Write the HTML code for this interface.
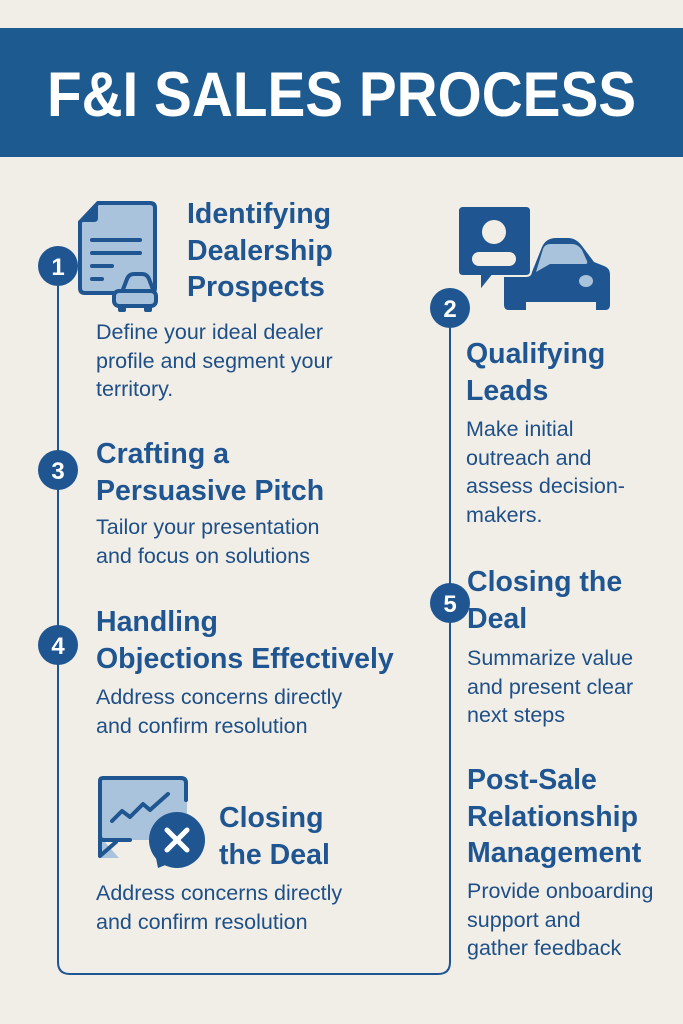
<!DOCTYPE html>
<html><head><meta charset="utf-8"><style>
*{margin:0;padding:0}
body{width:683px;height:1024px;background:#f1eee8;position:relative;overflow:hidden;font-family:"Liberation Sans",sans-serif;color:#1f5590}
.h{position:absolute;font-weight:bold;font-size:28.5px;line-height:36.5px;color:#1f5590;white-space:nowrap}
.b{position:absolute;font-size:21.5px;line-height:28.5px;color:#1e4f86;white-space:nowrap}
</style></head><body>
<div style="position:absolute;left:0;top:28px;width:683px;height:129px;background:#1d5a8f;"></div>
<div style="position:absolute;left:0;top:56px;width:683px;text-align:center;color:#fff;font-weight:bold;font-size:63px;line-height:78px;transform:scaleX(0.9);transform-origin:342px 0">F&amp;I SALES PROCESS</div>
<svg width="683" height="1024" style="position:absolute;left:0;top:0">
<g fill="none" stroke="#1f5590" stroke-width="2">
<path d="M58 286 V962 Q58 974 70 974 H438 Q450 974 450 962 V328"/>
</g>
<g fill="#1f5590">
<circle cx="58" cy="266" r="20"/><circle cx="450" cy="308" r="20"/>
<circle cx="58" cy="470" r="20"/><circle cx="58" cy="645" r="20"/><circle cx="450" cy="603" r="20"/>
</g>
<g fill="#fff" font-family="Liberation Sans" font-weight="bold" font-size="24" text-anchor="middle">
<text x="58" y="275">1</text><text x="450" y="317">2</text><text x="58" y="479">3</text><text x="58" y="654">4</text><text x="450" y="612">5</text>
</g>
<path d="M98 203 H150 Q155 203 155 208 V288 Q155 293 150 293 H85 Q80 293 80 288 V222 Z" fill="#a9c3dc" stroke="#1f5590" stroke-width="4"/>
<path d="M80 222 L98 203 V218 Q98 222 94 222 Z" fill="#1f5590"/>
<g stroke="#1f5590" stroke-width="4" stroke-linecap="round"><line x1="92" y1="240" x2="140" y2="240"/><line x1="92" y1="253" x2="140" y2="253"/><line x1="92" y1="266" x2="112" y2="266"/><line x1="92" y1="279" x2="102" y2="279"/></g>
<path d="M122 292 L127 279 Q129 274 134 274 H142 Q147 274 149 279 L154 292 Z" fill="#a9c3dc" stroke="#1f5590" stroke-width="4"/>
<rect x="114" y="291" width="42" height="15" rx="5" fill="#a9c3dc" stroke="#1f5590" stroke-width="4"/>
<rect x="118" y="304" width="8" height="8" rx="2" fill="#1f5590"/><rect x="144" y="304" width="8" height="8" rx="2" fill="#1f5590"/>
<path d="M504 272 H532 L542 247 Q546 238 556 238 H568 Q576 238 582 246 L594 262 L604 266 Q610 268 610 275 V305 Q610 310 605 310 H596 V302 H526 V310 H509 Q504 310 504 305 Z" fill="#1f5590"/>
<path d="M536 272 L543 249 Q545 244 550 244 H572 Q578 244 582 250 L587 261 Q588 264 585 264 H550 Z" fill="#a9c3dc"/>
<ellipse cx="586" cy="281" rx="7" ry="6" fill="#a9c3dc"/>
<path d="M463 206 H526 Q531 206 531 211 V271 Q531 276 526 276 H492 L480 291 V276 H463 Q458 276 458 271 V211 Q458 206 463 206 Z" fill="#1f5590" stroke="#f1eee8" stroke-width="2"/>
<circle cx="494" cy="232" r="12" fill="#f1eee8"/>
<rect x="472" y="252" width="44" height="14" rx="7" fill="#f1eee8"/>
<path d="M100 778 H184 Q187 778 187 781 V840 H103 L119 858 L100 858 V781 Q100 778 100 778 Z" fill="#a9c3dc"/>
<path d="M100 855 V781 Q100 778 103 778 H181 Q186 778 186 783 V800 M130 840 H104 Q100 840 100 836 M100 856 L116 842" fill="none" stroke="#1f5590" stroke-width="4" stroke-linecap="round"/>
<polyline points="112,821 122,811 130,817 143,804 150,810 168,794" fill="none" stroke="#1f5590" stroke-width="4" stroke-linecap="round" stroke-linejoin="round"/>
<circle cx="177" cy="840" r="28" fill="#1f5590"/>
<path d="M156 858 L158 868 L168 864 Z" fill="#1f5590"/>
<g stroke="#fff" stroke-width="5" stroke-linecap="round"><line x1="167" y1="830" x2="187" y2="850"/><line x1="187" y1="830" x2="167" y2="850"/></g>
</svg>
<div class="h" style="left:187px;top:196px">Identifying<br>Dealership<br>Prospects</div>
<div class="b" style="left:96px;top:318px">Define your ideal dealer<br>profile and segment your<br>territory.</div>
<div class="h" style="left:96px;top:436px">Crafting a<br>Persuasive Pitch</div>
<div class="b" style="left:96px;top:513px">Tailor your presentation<br>and focus on solutions</div>
<div class="h" style="left:96px;top:604px">Handling<br>Objections Effectively</div>
<div class="b" style="left:96px;top:683px">Address concerns directly<br>and confirm resolution</div>
<div class="h" style="left:219px;top:800px">Closing<br>the Deal</div>
<div class="b" style="left:96px;top:879px">Address concerns directly<br>and confirm resolution</div>
<div class="h" style="left:466px;top:336px">Qualifying<br>Leads</div>
<div class="b" style="left:466px;top:415px">Make initial<br>outreach and<br>assess decision-<br>makers.</div>
<div class="h" style="left:467px;top:564px">Closing the<br>Deal</div>
<div class="b" style="left:467px;top:644px">Summarize value<br>and present clear<br>next steps</div>
<div class="h" style="left:467px;top:762px">Post-Sale<br>Relationship<br>Management</div>
<div class="b" style="left:467px;top:877px">Provide onboarding<br>support and<br>gather feedback</div>
</body></html>
